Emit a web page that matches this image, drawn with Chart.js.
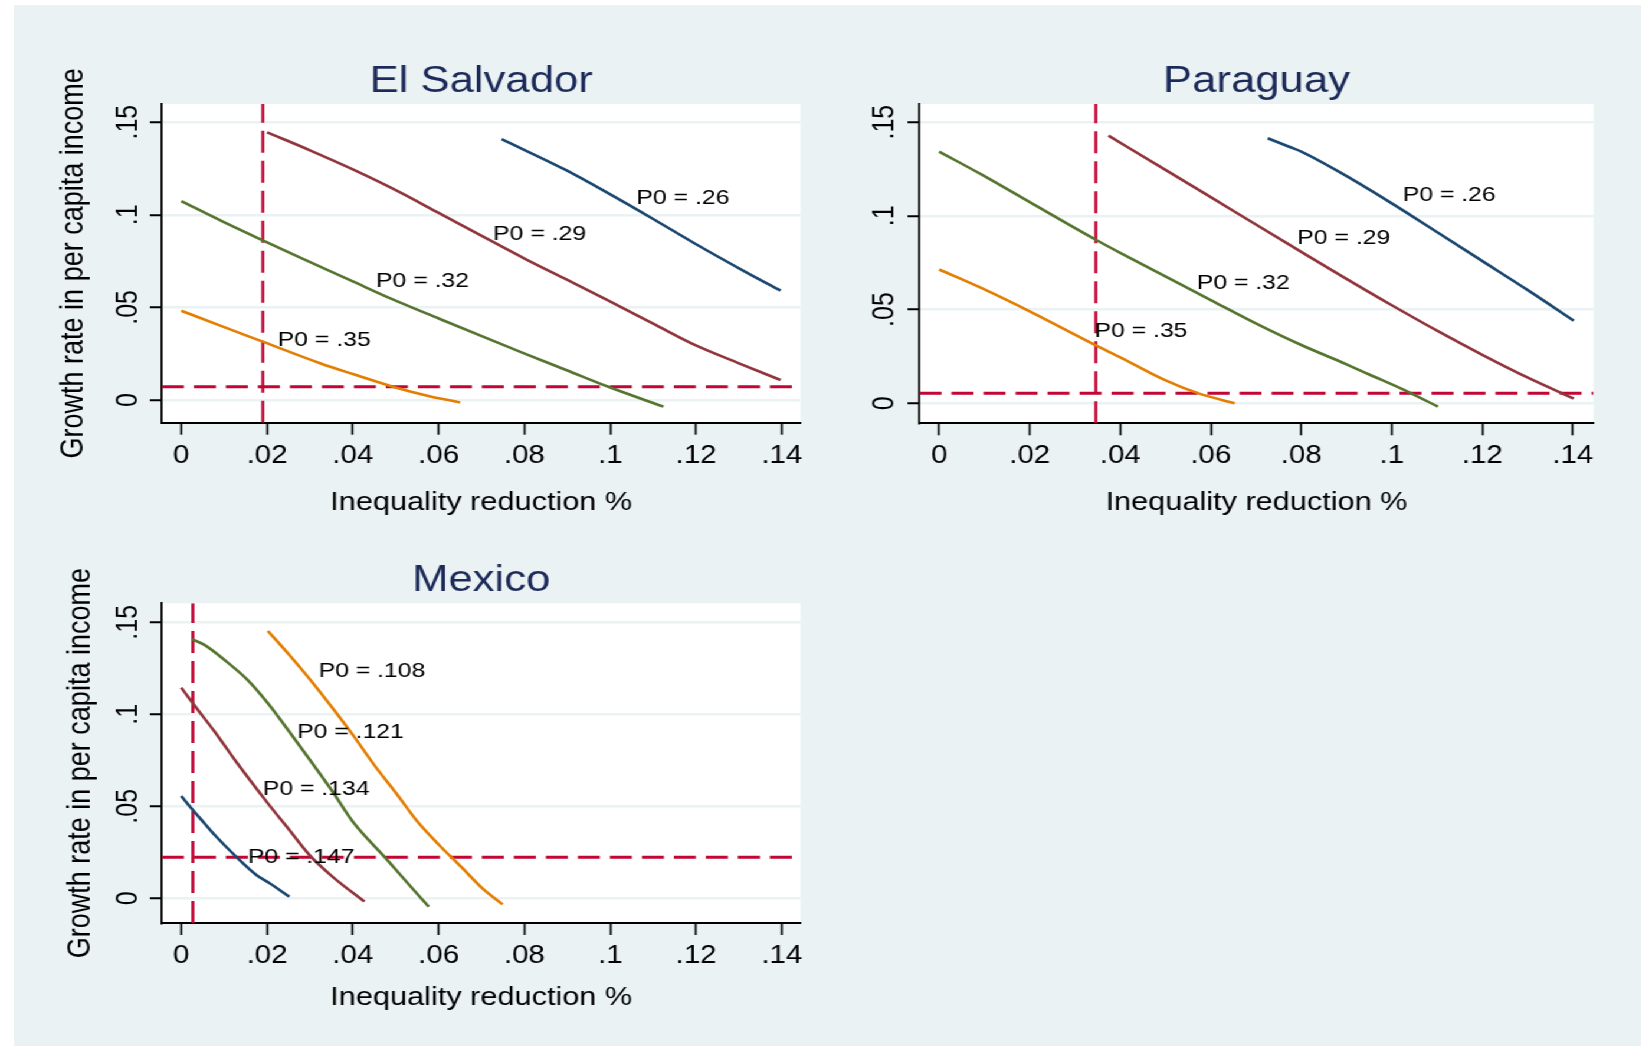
<!DOCTYPE html>
<html>
<head>
<meta charset="utf-8">
<title>Growth rate and inequality reduction</title>
<script src="https://cdn.jsdelivr.net/npm/chart.js@4.4.1/dist/chart.umd.min.js"></script>
<style>
  html, body { margin: 0; padding: 0; background: #fff; }
  body { width: 1641px; height: 1046px; overflow: hidden; position: relative; }
  #bg { position: absolute; left: 14px; top: 5px; right: 0; bottom: 0; background: #eaf2f3; }
  #stage { position: absolute; left: 0; top: 0; height: 1046px; transform-origin: 0 0; }
  #stage canvas { position: absolute; }
</style>
</head>
<body>
<div id="bg"></div>
<div id="stage">
  <canvas id="elSalvadorChart"></canvas>
  <canvas id="paraguayChart"></canvas>
  <canvas id="mexicoChart"></canvas>
</div>
<script>
// the original export is stretched sideways, so the whole stage is too
const S = 1.18;

const xTicks = [0, 0.02, 0.04, 0.06, 0.08, 0.1, 0.12, 0.14];
const xTickLabels = ["0", ".02", ".04", ".06", ".08", ".1", ".12", ".14"];
const yTicks = [0, 0.05, 0.1, 0.15];
const yTickLabels = ["0", ".05", ".1", ".15"];

// === El Salvador ===
const esP26x = [0.0747, 0.0896, 0.0997, 0.1098, 0.1197, 0.1315, 0.1397];
const esP26y = [0.1408, 0.1242, 0.1114, 0.0980, 0.0845, 0.0692, 0.0590];
const esP29x = [0.0200, 0.0300, 0.0400, 0.0500, 0.0600, 0.0718, 0.0799, 0.0900, 0.0997, 0.1100, 0.1197, 0.1300, 0.1397];
const esP29y = [0.1445, 0.1348, 0.1245, 0.1133, 0.1010, 0.0864, 0.0765, 0.0648, 0.0535, 0.0412, 0.0297, 0.0198, 0.0108];
const esP32x = [0, 0.0097, 0.0190, 0.0276, 0.0400, 0.0493, 0.0600, 0.0719, 0.0799, 0.0897, 0.0997, 0.1124];
const esP32y = [0.1074, 0.0963, 0.0862, 0.0770, 0.0640, 0.0543, 0.0440, 0.0327, 0.0252, 0.0162, 0.0070, -0.0036];
const esP35x = [0, 0.0097, 0.0190, 0.0322, 0.0400, 0.0493, 0.0576, 0.0650];
const esP35y = [0.0482, 0.0396, 0.0315, 0.0200, 0.0140, 0.0072, 0.0022, -0.0013];
const esRefX = 0.019;
const esRefY = 0.0072;
const esXRange = [-0.00452, 0.14436];
const esYRange = [-0.01226, 0.1598];
const esLabels = ["P0 = .26", "P0 = .29", "P0 = .32", "P0 = .35"];
const esLabelX = [0.1061, 0.0727, 0.0454, 0.0225];
const esLabelY = [0.1089, 0.0895, 0.0639, 0.0324];

// === Paraguay ===
const pyP26x = [0.0726, 0.0776, 0.0800, 0.0883, 0.1000, 0.1104, 0.1202, 0.1303, 0.1402];
const pyP26y = [0.1414, 0.1366, 0.1343, 0.1236, 0.1067, 0.0907, 0.0756, 0.0600, 0.0441];
const pyP29x = [0.0374, 0.0499, 0.0600, 0.0697, 0.0800, 0.0897, 0.1000, 0.1104, 0.1202, 0.1303, 0.1402];
const pyP29y = [0.1428, 0.1247, 0.1100, 0.0958, 0.0808, 0.0668, 0.0523, 0.0382, 0.0256, 0.0134, 0.0025];
const pyP32x = [0, 0.0094, 0.0201, 0.0345, 0.0402, 0.0600, 0.0695, 0.0800, 0.0900, 0.0949, 0.1037, 0.1102];
const pyP32y = [0.1343, 0.1220, 0.1072, 0.0874, 0.0800, 0.0551, 0.0432, 0.0311, 0.0208, 0.0155, 0.0060, -0.0018];
const pyP35x = [0, 0.0094, 0.0201, 0.0345, 0.0402, 0.0499, 0.0573, 0.0653];
const pyP35y = [0.0714, 0.0614, 0.0489, 0.0310, 0.0243, 0.0124, 0.0053, 0.0000];
const pyRefX = 0.0346;
const pyRefY = 0.0053;
const pyXRange = [-0.00435, 0.14457];
const pyYRange = [-0.01067, 0.1597];
const pyLabels = ["P0 = .26", "P0 = .29", "P0 = .32", "P0 = .35"];
const pyLabelX = [0.1024, 0.0791, 0.0569, 0.0343];
const pyLabelY = [0.1112, 0.0882, 0.0643, 0.0386];

// === Mexico ===
const mxP108x = [0.0202, 0.0252, 0.0303, 0.0353, 0.0400, 0.0450, 0.0501, 0.0551, 0.0601, 0.0652, 0.0702, 0.0749];
const mxP108y = [0.1453, 0.1322, 0.1181, 0.1033, 0.0888, 0.0724, 0.0571, 0.0416, 0.0290, 0.0172, 0.0054, -0.0033];
const mxP121x = [0.0025, 0.0054, 0.0101, 0.0155, 0.0202, 0.0252, 0.0303, 0.0353, 0.0400, 0.0477, 0.0528, 0.0577];
const mxP121y = [0.1408, 0.1377, 0.1295, 0.1186, 0.1060, 0.0905, 0.0742, 0.0579, 0.0416, 0.0217, 0.0082, -0.0046];
const mxP134x = [0, 0.0027, 0.0078, 0.0128, 0.0202, 0.0252, 0.0299, 0.0353, 0.0427];
const mxP134y = [0.1145, 0.1060, 0.0905, 0.0742, 0.0516, 0.0371, 0.0235, 0.0117, -0.0018];
const mxP147x = [0, 0.0027, 0.0054, 0.0078, 0.0128, 0.0175, 0.0206, 0.0252];
const mxP147y = [0.0556, 0.0480, 0.0408, 0.0344, 0.0226, 0.0127, 0.0082, 0.0009];
const mxRefX = 0.0027;
const mxRefY = 0.0223;
const mxXRange = [-0.00452, 0.14436];
const mxYRange = [-0.0134, 0.1603];
const mxLabels = ["P0 = .108", "P0 = .121", "P0 = .134", "P0 = .147"];
const mxLabelX = [0.0320, 0.0270, 0.0190, 0.0155];
const mxLabelY = [0.1236, 0.0903, 0.0595, 0.0222];

const navy = "#1a476f";
const maroon = "#90353b";
const green = "#55752f";
const orange = "#e37e00";
const cranberry = "#c10534";

const FONT = '"Liberation Sans", Arial, Helvetica, sans-serif';
Chart.defaults.font.family = FONT;
Chart.defaults.color = "#000";

const stage = document.getElementById("stage");
stage.style.width = (1641 / S) + "px";
stage.style.transform = "scaleX(" + S + ")";

const measure = document.createElement("canvas").getContext("2d");
measure.font = "25px " + FONT;
const widestY = Math.max(...yTickLabels.map(t => measure.measureText(t).width));

const plotBg = {
  id: "plotBg",
  beforeDraw(chart) {
    const { ctx, chartArea: a } = chart;
    ctx.save();
    ctx.fillStyle = "#fff";
    ctx.fillRect(a.left, a.top, a.right - a.left, a.bottom - a.top);
    ctx.restore();
  },
};

const curveLabels = {
  id: "curveLabels",
  afterDatasetsDraw(chart, args, opts) {
    const { ctx, scales: { x, y } } = chart;
    ctx.save();
    ctx.font = "21px " + FONT;
    ctx.fillStyle = "#000";
    ctx.textAlign = "left";
    ctx.textBaseline = "middle";
    opts.text.forEach((t, i) => {
      ctx.fillText(t, x.getPixelForValue(opts.x[i]), y.getPixelForValue(opts.y[i]));
    });
    ctx.restore();
  },
};

function makePanel(id, p) {
  const c = document.getElementById(id);
  const w = Math.round((p.box.right - p.box.left) / S);
  const h = p.box.bottom - p.box.top;
  c.width = w;
  c.height = h;
  c.style.left = (p.box.left / S) + "px";
  c.style.top = p.box.top + "px";

  const yAxisW = (p.plot.left - p.box.left) / S;
  const padRight = w - (p.plot.right - p.box.left) / S;
  const xAxisH = p.box.bottom - p.plot.bottom;
  const titleLH = 37 * 1.2;
  const titleTop = p.titleMid - p.box.top - titleLH / 2;
  const titleBottom = (p.plot.top - p.box.top) - titleLH - titleTop;
  const xTitleLH = 26 * 1.2;
  const yTitleLH = 27 * 1.2;
  const xTitlePad = p.box.bottom - p.xTitleMid - xTitleLH / 2;
  const yTitlePad = p.yTitleX ? (p.yTitleX - p.box.left) / S - yTitleLH / 2 : 0;
  const yTickPad = yAxisW - (p.yLabelX - p.box.left) / S - 12 / S - widestY / 2;

  const datasets = p.series.map(s => ({
    data: s.x.map((x, i) => ({ x, y: s.y[i] })),
    borderColor: s.color,
    borderWidth: 2.6,
    pointRadius: 0,
    cubicInterpolationMode: "monotone",
    fill: false,
  }));
  datasets.push({
    data: [{ x: p.refX, y: p.yRange[0] }, { x: p.refX, y: p.yRange[1] }],
    borderColor: cranberry, borderWidth: 3 / S, borderDash: [22, 8], pointRadius: 0,
  });
  datasets.push({
    data: [{ x: p.xRange[0], y: p.refY }, { x: p.xRange[1], y: p.refY }],
    borderColor: cranberry, borderWidth: 3, borderDash: [22 / S, 10 / S], pointRadius: 0,
  });

  new Chart(c, {
    type: "line",
    data: { datasets },
    options: {
      responsive: false,
      animation: false,
      events: [],
      layout: { padding: { left: 0, top: 0, bottom: 0, right: padRight } },
      plugins: {
        legend: { display: false },
        tooltip: { enabled: false },
        title: {
          display: true, text: p.title, color: "#1c2a5a", fullSize: false,
          font: { size: 37, weight: "normal" },
          padding: { top: titleTop, bottom: titleBottom },
        },
        curveLabels: { text: p.labels, x: p.labelX, y: p.labelY },
      },
      scales: {
        x: {
          type: "linear", min: p.xRange[0], max: p.xRange[1],
          afterBuildTicks: sc => { sc.ticks = xTicks.map(v => ({ value: v })); },
          afterFit: sc => { sc.height = xAxisH; },
          ticks: {
            font: { size: 25 }, color: "#000", padding: 6.3,
            minRotation: 0, maxRotation: 0, autoSkip: false,
            callback: (v, i) => xTickLabels[i],
          },
          grid: { drawOnChartArea: false, drawTicks: true, tickLength: 12, tickColor: "#000", tickWidth: 2 / S },
          border: { display: true, color: "#000", width: 2 },
          title: {
            display: true, text: "Inequality reduction %", color: "#000",
            font: { size: 26 }, padding: { top: 0, bottom: xTitlePad },
          },
        },
        y: {
          type: "linear", min: p.yRange[0], max: p.yRange[1],
          afterBuildTicks: sc => { sc.ticks = yTicks.map(v => ({ value: v })); },
          afterFit: sc => { sc.width = yAxisW; },
          ticks: {
            font: { size: 25 }, color: "#000", padding: yTickPad,
            minRotation: 90, maxRotation: 90, crossAlign: "center", autoSkip: false,
            callback: (v, i) => yTickLabels[i],
          },
          grid: { color: "#eaf2f3", lineWidth: 2.5, drawTicks: true, tickLength: 12 / S, tickColor: "#000", tickWidth: 2 },
          border: { display: true, color: "#000", width: 2 / S },
          title: {
            display: !!p.yTitleX, text: "Growth rate in per capita income", color: "#000",
            font: { size: 27 }, padding: { top: yTitlePad, bottom: 0 },
          },
        },
      },
    },
    plugins: [plotBg, curveLabels],
  });
}

makePanel("elSalvadorChart", {
  title: "El Salvador",
  box: { left: 30, right: 830, top: 30, bottom: 530 },
  plot: { left: 162.3, right: 801, top: 104, bottom: 422.7 },
  titleMid: 82, xTitleMid: 503, yTitleX: 74.5, yLabelX: 129,
  xRange: esXRange, yRange: esYRange, refX: esRefX, refY: esRefY,
  labels: esLabels, labelX: esLabelX, labelY: esLabelY,
  series: [
    { x: esP26x, y: esP26y, color: navy },
    { x: esP29x, y: esP29y, color: maroon },
    { x: esP32x, y: esP32y, color: green },
    { x: esP35x, y: esP35y, color: orange },
  ],
});

makePanel("paraguayChart", {
  title: "Paraguay",
  box: { left: 840, right: 1630, top: 30, bottom: 530 },
  plot: { left: 919.3, right: 1593.3, top: 104, bottom: 423.3 },
  titleMid: 82, xTitleMid: 503, yTitleX: 0, yLabelX: 885.5,
  xRange: pyXRange, yRange: pyYRange, refX: pyRefX, refY: pyRefY,
  labels: pyLabels, labelX: pyLabelX, labelY: pyLabelY,
  series: [
    { x: pyP26x, y: pyP26y, color: navy },
    { x: pyP29x, y: pyP29y, color: maroon },
    { x: pyP32x, y: pyP32y, color: green },
    { x: pyP35x, y: pyP35y, color: orange },
  ],
});

makePanel("mexicoChart", {
  title: "Mexico",
  box: { left: 30, right: 830, top: 530, bottom: 1030 },
  plot: { left: 162.3, right: 801, top: 603.3, bottom: 923 },
  titleMid: 581, xTitleMid: 998, yTitleX: 81, yLabelX: 129,
  xRange: mxXRange, yRange: mxYRange, refX: mxRefX, refY: mxRefY,
  labels: mxLabels, labelX: mxLabelX, labelY: mxLabelY,
  series: [
    { x: mxP108x, y: mxP108y, color: orange },
    { x: mxP121x, y: mxP121y, color: green },
    { x: mxP134x, y: mxP134y, color: maroon },
    { x: mxP147x, y: mxP147y, color: navy },
  ],
});
</script>
</body>
</html>
